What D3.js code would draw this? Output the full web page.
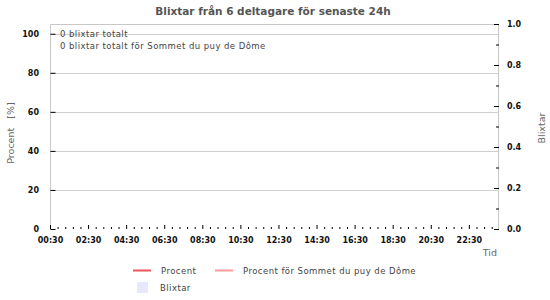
<!DOCTYPE html>
<html>
<head>
<meta charset="utf-8">
<script src="https://cdn.jsdelivr.net/npm/d3@7"></script>
<style>
  body { margin: 0; background: #fff; }
  text { font-family: "DejaVu Sans", sans-serif; }
</style>
</head>
<body>
<div id="chart"></div>
<script>
// data (no strikes in the period, so the series are empty)
const xTickLabels = ['00:30','02:30','04:30','06:30','08:30','10:30','12:30','14:30','16:30','18:30','20:30','22:30'];
const leftTicks = [0, 20, 40, 60, 80, 100];
const rightTicks = [0, 0.2, 0.4, 0.6, 0.8, 1.0];
const procent = [];          // [minute, value]
const procentStation = [];   // [minute, value]
const blixtar = [];          // [minute, count]
const infoLines = ['0 blixtar totalt', '0 blixtar totalt för Sommet du puy de Dôme'];
const legendItems = [
  {name: 'Procent', type: 'line', color: '#e8555a'},
  {name: 'Procent för Sommet du puy de Dôme', type: 'line', color: '#ff9b9b'},
  {name: 'Blixtar', type: 'box', color: '#e8e8fc'}
];

const width = 550, height = 300;
const m = {left: 50, right: 51, top: 24, bottom: 71};
const pw = width - m.left - m.right, ph = height - m.top - m.bottom;

const toMin = s => { const [h, mm] = s.split(':'); return +h * 60 + +mm; };

const x = d3.scaleLinear().domain([30, 1445]).range([0, pw]);
const y = d3.scaleLinear().domain([0, 105]).range([ph, 0]);
const y2 = d3.scaleLinear().domain([0, 1]).range([ph, 0]);

const svg = d3.select('#chart').append('svg')
  .attr('width', width).attr('height', height);

svg.append('text')
  .attr('x', 273).attr('y', 15)
  .attr('text-anchor', 'middle')
  .style('font-size', '10.5px').style('font-weight', 'bold')
  .attr('fill', '#555')
  .text('Blixtar från 6 deltagare för senaste 24h');

const g = svg.append('g').attr('transform', `translate(${m.left},${m.top})`);

// gridlines from the left axis
g.append('g').selectAll('line')
  .data(leftTicks.filter(d => d > 0))
  .join('line')
  .attr('x1', 0).attr('x2', pw)
  .attr('y1', d => Math.round(y(d)) + 0.5).attr('y2', d => Math.round(y(d)) + 0.5)
  .attr('stroke', '#cfcfcf');

// frame
g.append('path')
  .attr('d', `M0.5,${ph}V0.5H${pw - 0.5}V${ph}`)
  .attr('fill', 'none').attr('stroke', '#c8c8c8');

// series (empty for this period)
g.append('g').selectAll('rect').data(blixtar).join('rect')
  .attr('x', d => x(d[0])).attr('y', d => y2(d[1]))
  .attr('width', 2).attr('height', d => ph - y2(d[1]))
  .attr('fill', '#e8e8fc');
const line = d3.line().x(d => x(d[0])).y(d => y(d[1]));
g.append('path').datum(procent).attr('d', line).attr('fill', 'none').attr('stroke', '#e8555a');
g.append('path').datum(procentStation).attr('d', line).attr('fill', 'none').attr('stroke', '#ff9b9b');

// left axis
const yAxis = d3.axisLeft(y).tickValues(leftTicks).tickSize(-5).tickPadding(11);
const ya = g.append('g').call(yAxis);
ya.select('.domain').remove();
ya.selectAll('.tick line').attr('stroke', '#000').attr('transform', 'translate(0.5,0)');
ya.selectAll('text').style('font-size', '8px').style('font-weight', 'bold').attr('fill', '#111');

// right axis with minor ticks
const yr = g.append('g').attr('transform', `translate(${pw},0)`);
const rightMinor = rightTicks.slice(0, -1).map(d => +(d + 0.1).toFixed(1));
yr.append('g').call(d3.axisRight(y2).tickValues(rightMinor).tickSize(-3).tickFormat(''))
  .call(a => a.select('.domain').remove());
const ra = yr.append('g').call(d3.axisRight(y2).tickValues(rightTicks).tickSize(-5).tickPadding(8).tickFormat(d3.format('.1f')));
ra.select('.domain').remove();
yr.selectAll('.tick line').attr('stroke', '#000');
ra.selectAll('text').style('font-size', '8px').style('font-weight', 'bold').attr('fill', '#111');

// bottom axis: major every 2h, minor every 24 min
const majors = xTickLabels.map(toMin);
const minors = d3.range(30, 1445, 24).filter(v => !majors.includes(v));
const xb = g.append('g').attr('transform', `translate(0,${ph})`);
xb.append('g').call(d3.axisBottom(x).tickValues(minors).tickSize(-2).tickFormat(''))
  .call(a => a.select('.domain').remove());
const xa = xb.append('g').call(d3.axisBottom(x).tickValues(majors).tickSize(-4).tickPadding(8)
  .tickFormat((d, i) => xTickLabels[i]));
xa.select('.domain').remove();
xb.selectAll('.tick line').attr('stroke', '#000');
xa.selectAll('text').style('font-size', '8px').style('font-weight', 'bold').attr('fill', '#111');

// info text inside the plot
g.append('g').selectAll('text').data(infoLines).join('text')
  .attr('x', 10).attr('y', (d, i) => 13 + i * 12)
  .style('font-size', '8.5px').style('letter-spacing', '0.45px').attr('fill', '#444')
  .text(d => d);

// axis titles
svg.append('text')
  .attr('transform', 'translate(14,133) rotate(-90)')
  .attr('text-anchor', 'middle')
  .style('font-size', '9.5px').attr('fill', '#666')
  .attr('xml:space', 'preserve')
  .text('Procent   [%]');
svg.append('text')
  .attr('transform', 'translate(545,128) rotate(-90)')
  .attr('text-anchor', 'middle')
  .style('font-size', '9.5px').attr('fill', '#666')
  .text('Blixtar');
svg.append('text')
  .attr('x', 497).attr('y', 256)
  .attr('text-anchor', 'end')
  .style('font-size', '9.5px').attr('fill', '#666')
  .text('Tid');

// legend
const legPos = [[133, 270], [215, 270], [133, 287]];
const leg = svg.append('g').selectAll('g').data(legendItems).join('g')
  .attr('transform', (d, i) => `translate(${legPos[i][0]},${legPos[i][1]})`);
leg.filter(d => d.type === 'line').append('line')
  .attr('x1', 0).attr('x2', 18).attr('y1', 0.5).attr('y2', 0.5)
  .attr('stroke', d => d.color).attr('stroke-width', 2);
leg.filter(d => d.type === 'box').append('rect')
  .attr('x', 4).attr('y', -5).attr('width', 11).attr('height', 11)
  .attr('fill', d => d.color);
leg.append('text')
  .attr('x', d => d.type === 'box' ? 27 : 28).attr('y', 4)
  .style('font-size', '8.5px').style('letter-spacing', '0.45px').attr('fill', '#444')
  .text(d => d.name);
</script>
</body>
</html>
